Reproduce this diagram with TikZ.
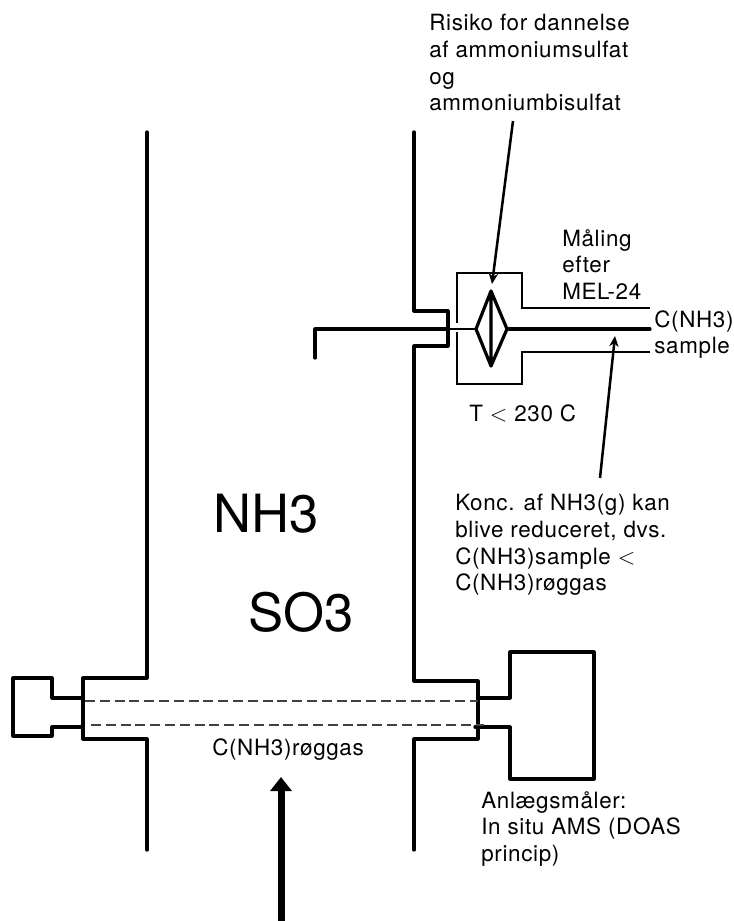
\documentclass[tikz,border=0pt]{standalone}
\usepackage{fontspec}
\setmainfont{TeX Gyre Heros}
\newfontfamily\lblfont[LetterSpace=3]{TeX Gyre Heros}
\usetikzlibrary{arrows.meta}
\tikzset{
  thick line/.style={line width=2.4pt,line join=round,line cap=round},
  thin line/.style={line width=1pt},
  dash line/.style={line width=0.8pt,dash pattern=on 7.5pt off 3.6pt,color=black!75},
  label/.style={inner sep=0pt,align=left,anchor=north west,font=\lblfont\fontsize{16.8}{20}\selectfont},
  big label/.style={inner sep=0pt,anchor=base west,font=\fontsize{39.5}{42}\selectfont},
  pointer/.style={line width=1.9pt,-{Stealth[length=8pt,width=7pt]}},
}
\begin{document}
\begin{tikzpicture}[x=0.75pt,y=-0.75pt]
\useasboundingbox (0,0) rectangle (733,921);
% stack walls
\draw[thick line] (147,132) -- (147,678) -- (83,678) -- (83,739) -- (147,739) -- (147,850);
\draw[thick line] (414,132) -- (414,311) -- (448,311) -- (448,346) -- (414,346) -- (414,681) -- (478,681) -- (478,739) -- (414,739) -- (414,850);
% left device
\draw[thick line] (83,698) -- (52,698) -- (52,678) -- (13,678) -- (13,736) -- (52,736) -- (52,727) -- (83,727);
% right device
\draw[thick line] (478,698) -- (510,698) -- (510,652) -- (594,652) -- (594,779) -- (510,779) -- (510,727) -- (475,727);
% dashed beam
\draw[dash line] (85,701) -- (478,701);
\draw[dash line] (91,725) -- (484,725);
% probe
\draw[thick line] (315,358) -- (315,329) -- (448,329);
\draw[line width=1.8pt] (448,329) -- (476,329);
\coordinate (T) at (491,291);
\coordinate (B) at (491,366);
\coordinate (L) at (476,329);
\coordinate (R) at (507,329);
\draw[thick line] (T) -- (R) -- (B) -- (L) -- cycle (T) -- (B);
\draw[thick line] (509,329) -- (650,329);
% heated box
\draw[thin line] (457,323) -- (457,273) -- (522,273) -- (522,308) -- (650,308);
\draw[thin line] (457,332) -- (457,384) -- (522,384) -- (522,352) -- (650,352);
% big arrow
\coordinate (A1) at (281,921);
\coordinate (A2) at (281,777);
\draw[line width=5.25pt,-{Triangle[length=10.5pt,width=15.75pt]}] (A1) -- (A2);
% texts
\node[label] (risiko) at (429,14) {Risiko for dannelse\\af ammoniumsulfat\\og\\ammoniumbisulfat};
\node[label] (maal) at (562,229) {Måling\\efter\\MEL-24};
\node[label] (cnh) at (654,310) {C(NH3)\\sample};
\node[label] (temp) at (469,404) {T $<$ 230 C};
\node[label] (konc) at (455,494) {Konc. af NH3(g) kan\\blive reduceret, dvs.\\C(NH3)sample $<$\\C(NH3)røggas};
\node[label] (roeg) at (212,738) {C(NH3)røggas};
\node[label] (anl) at (481,791) {Anlægsmåler:\\In situ AMS (DOAS\\princip)};
\node[big label] (nh) at (213,532) {NH3};
\node[big label] (so) at (248,631) {SO3};
% pointers
\coordinate (P1a) at (513,121);
\coordinate (P1b) at (492,284);
\draw[pointer] (P1a) -- (P1b);
\coordinate (P2a) at (600,478);
\coordinate (P2b) at (615,336);
\draw[pointer] (P2a) -- (P2b);
\end{tikzpicture}
\end{document}
